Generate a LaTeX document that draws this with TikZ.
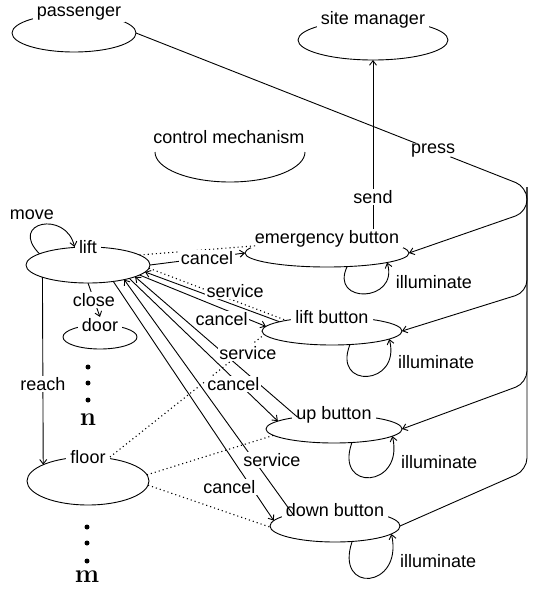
\documentclass[tikz,border=0pt]{standalone}
\usepackage{fontspec}
\setsansfont{Liberation Sans}
\usetikzlibrary{shapes.geometric,arrows.meta}

\newcommand{\labfont}{\sffamily\fontsize{18}{20}\selectfont}

\begin{document}
\begin{tikzpicture}[scale=1, x=1pt, y=-1pt, line width=0.9pt,
        >={Straight Barb[length=4.5pt,width=7pt]},
        every node/.style={font=\labfont},
        entity/.style={draw, ellipse, inner sep=0pt, outer sep=0pt},
        enttitle/.style={fill=white, inner xsep=4pt, inner ysep=1pt},
        evlabel/.style={fill=white, inner sep=1.5pt},
        stateline/.style={line width=1.1pt, dash pattern=on 1.1pt off 3pt},
        bigletter/.style={font=\rmfamily\bfseries\fontsize{26}{28}\selectfont}]
        \useasboundingbox (0,0) rectangle (535,590);

        % Entities
        \node[entity, minimum width=124pt, minimum height=38pt] (pass) at (74,33) {};
        \node[entity, minimum width=150pt, minimum height=40pt] (mgr) at (373,40) {};
        \node[entity, minimum width=124pt, minimum height=36pt] (lift) at (88,265) {};
        \node[entity, minimum width=74pt, minimum height=24pt] (door) at (100,337) {};
        \node[entity, minimum width=122pt, minimum height=48pt] (floor) at (88,481) {};
        \node[entity, minimum width=164pt, minimum height=28pt] (emg) at (327,253) {};
        \node[entity, minimum width=140pt, minimum height=28pt] (lbtn) at (332,331) {};
        \node[entity, minimum width=136pt, minimum height=28pt] (ubtn) at (334,429) {};
        \node[entity, minimum width=130pt, minimum height=32pt] (dbtn) at (335,526) {};

        % Entity names
        \node[enttitle] (passt) at ([xshift=5pt]pass.north) {passenger};
        \node[enttitle] (mgrt) at (mgr.north) {site manager};
        \node[enttitle] (liftt) at (lift.north) {lift};
        \node[enttitle] (doort) at (door.north) {door};
        \node[enttitle] (floort) at (floor.north) {floor};
        \node[enttitle] (emgt) at (emg.north) {emergency button};
        \node[enttitle] (lbtnt) at (lbtn.north) {lift button};
        \node[enttitle] (ubtnt) at (ubtn.north) {up button};
        \node[enttitle] (dbtnt) at (dbtn.north) {down button};

        % Control mechanism
        \node[enttitle] (ctrlt) at (229,137) {control mechanism};
        \draw (155,152) arc[start angle=180, end angle=0, x radius=75, y radius=30];

        % Press: passenger to the buttons
        \coordinate (bustop) at (527,187);
        \coordinate (busbot) at (527,470);
        \draw[rounded corners=12pt] (pass.east) -- node[evlabel, pos=0.76] (press) {press} (bustop) -- (busbot) -- (dbtn.east);
        \foreach \btn/\yy in {emg/212, lbtn/292, ubtn/383}
            \draw[->, rounded corners=12pt] (bustop) -- (527,\yy) -- (\btn.east);

        % Send
        \draw[->] (mgr.south |- emgt.north) -- node[evlabel, pos=0.19] (send) {send} (mgr.south);

        % Lift, door and floor
        \draw[->] (lift.167) .. controls (8,222) and (66,210) .. (liftt.west);
        \node[evlabel] (move) at (32,215) {move};
        \draw[->] (lift.south) -- node[evlabel] (close) {close} (doort.north);
        \draw[->] (lift.195) -- node[evlabel, pos=0.57] (reach) {reach} (floor.160);

        % Emergency button
        \draw[stateline] (lift.11) -- (emg.174);
        \draw[->] (lift.east) -- node[evlabel, pos=0.6] (cancela) {cancel} (emg.west);
        \draw[->] (emg.-34) .. controls +(-18,38) and +(12,40) .. (emg.-9)
            node[evlabel, pos=0.8, right=8pt] (illa) {illuminate};

        % Lift button
        \draw[stateline] (lift.-3) -- (lbtn.167);
        \draw[->] (lbtn.170) -- node[evlabel, pos=0.33, yshift=14pt] (serva) {service} (lift.-7);
        \draw[->] (lift.-11) -- node[evlabel, pos=0.65, yshift=-11pt] (cancelb) {cancel} (lbtn.176);
        \draw[stateline] (floort.east) -- (lbtn.183);
        \draw[->] (lbtn.-37) .. controls +(-18,45) and +(12,47) .. (lbtn.-8)
            node[evlabel, pos=0.8, right=8pt] (illb) {illuminate};

        % Up button
        \draw[->] (ubtn.162) -- node[evlabel, pos=0.46, xshift=25pt] (servb) {service} (lift.-14);
        \draw[->] (lift.-18) -- node[evlabel, pos=0.7, yshift=-6pt] (cancelc) {cancel} (ubtn.172);
        \draw[stateline] (floor.6) -- (ubtn.186);
        \draw[->] (ubtn.-37) .. controls +(-18,50) and +(12,52) .. (ubtn.-7)
            node[evlabel, pos=0.8, right=8pt] (illc) {illuminate};

        % Down button
        \draw[->] (dbtn.164) -- node[evlabel, pos=0.23, xshift=18pt] (servc) {service} (lift.-22);
        \draw[->] (lift.-33) -- node[evlabel, pos=0.86, xshift=-22pt] (canceld) {cancel} (dbtn.175);
        \draw[stateline] (floor.-4) -- (dbtn.181);
        \draw[->] (dbtn.-42) .. controls +(-18,53) and +(12,55) .. (dbtn.-8)
            node[evlabel, pos=0.8, right=8pt] (illd) {illuminate};

        % More doors and floors
        \foreach \yy in {367,383,400} \fill (88,\yy) circle[radius=2.5pt];
        \node[bigletter] (ndoors) at (88,420) {n};
        \foreach \yy in {527,543,561} \fill (87,\yy) circle[radius=2.5pt];
        \node[bigletter] (mfloors) at (87,577) {m};
    \end{tikzpicture}
\end{document}
